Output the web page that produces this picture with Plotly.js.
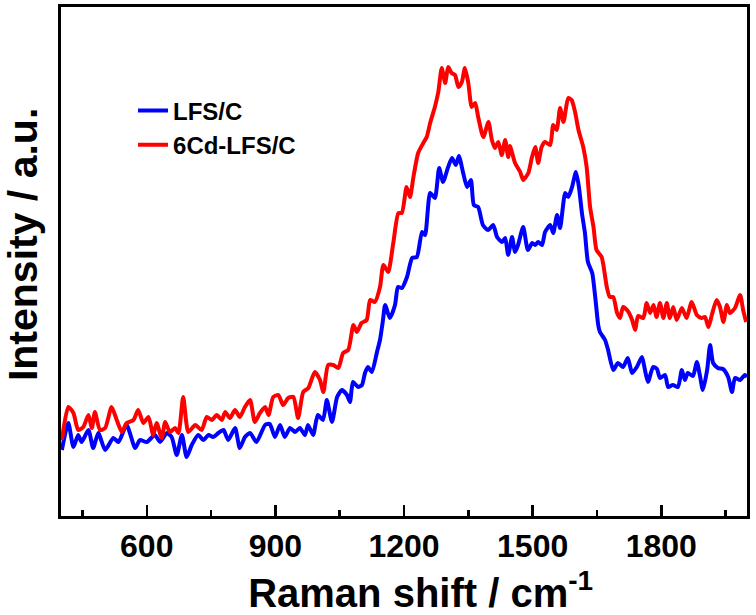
<!DOCTYPE html>
<html>
<head>
<meta charset="utf-8">
<script src="https://cdn.plot.ly/plotly-3.0.1.min.js"></script>
<style>
html,body{margin:0;padding:0;background:#fff;}
#chart{width:756px;height:615px;}
</style>
</head>
<body>
<div id="chart"></div>
<script>
// Raman shift (cm^-1) and intensity (a.u.) for LFS/C
var lfsX = [402,417,429,440,448,464,475,487,503,522,534,553,573,584,600,619,631,647,658,670,682,693,705,720,732,744,755,767,779,790,806,817,829,841,856,876,887,899,911,922,934,946,957,969,976,988,999,1011,1020,1032,1044,1055,1067,1074,1081,1093,1102,1109,1116,1125,1137,1144,1151,1156,1167,1179,1186,1195,1207,1219,1230,1242,1249,1261,1272,1282,1291,1303,1312,1321,1328,1338,1347,1356,1363,1373,1384,1396,1408,1417,1429,1436,1443,1452,1459,1466,1478,1489,1499,1506,1513,1522,1529,1541,1548,1557,1564,1576,1583,1592,1601,1608,1615,1622,1629,1639,1646,1653,1657,1669,1676,1688,1699,1711,1722,1732,1743,1755,1762,1769,1781,1790,1797,1809,1816,1827,1839,1848,1855,1862,1874,1883,1890,1897,1907,1914,1921,1932,1944,1956,1965,1972,1984,1995,2000];
var lfsY = [66,93,69,81,74,86,68,83,66,78,74,91,68,76,74,81,74,83,79,61,81,59,71,81,76,81,79,83,86,76,88,68,79,83,74,91,92,79,91,79,88,84,88,81,91,81,101,96,116,94,119,126,121,114,134,129,131,143,149,144,164,176,196,211,198,211,229,228,239,258,259,284,281,323,318,348,334,349,358,351,360,343,329,336,311,309,291,286,291,279,274,278,261,279,264,271,289,266,273,271,274,271,284,291,283,301,288,323,319,329,344,329,303,283,254,243,219,191,184,176,166,146,153,149,158,143,149,159,146,134,149,147,138,141,129,131,129,146,136,143,140,154,141,126,146,171,153,148,147,139,124,138,136,141,139];

// Raman shift (cm^-1) and intensity (a.u.) for 6Cd-LFS/C
var cdX = [402,417,429,440,452,464,472,479,491,503,518,530,542,553,569,580,592,604,615,623,635,643,654,666,674,685,697,713,728,740,752,763,775,783,794,806,817,829,841,852,864,876,884,895,907,918,930,942,953,965,977,992,1004,1012,1023,1035,1047,1058,1070,1082,1090,1101,1113,1121,1132,1144,1152,1163,1175,1187,1195,1206,1214,1222,1233,1245,1253,1261,1272,1280,1288,1296,1303,1311,1319,1327,1335,1342,1350,1358,1366,1373,1385,1397,1405,1412,1420,1428,1436,1443,1447,1459,1471,1478,1490,1498,1506,1513,1521,1529,1541,1548,1556,1564,1572,1583,1591,1599,1607,1618,1626,1634,1642,1649,1661,1673,1680,1688,1697,1704,1711,1722,1732,1739,1746,1758,1766,1774,1782,1789,1797,1805,1813,1820,1828,1836,1848,1859,1871,1883,1894,1902,1910,1918,1929,1937,1945,1953,1960,1972,1984,1991,1998];
var cdY = [76,109,103,86,89,101,88,104,86,88,109,96,84,93,96,106,93,99,81,93,78,94,84,88,83,119,84,91,86,99,96,101,96,104,98,106,99,109,116,94,103,109,101,119,121,111,118,119,98,124,128,144,136,124,151,151,148,163,166,191,184,193,196,216,214,229,251,244,273,303,303,329,319,339,363,373,379,393,409,424,448,433,449,443,441,429,434,448,433,409,413,399,379,394,376,368,374,361,376,359,370,353,344,336,343,358,369,353,369,374,371,391,386,408,394,418,416,404,386,369,349,309,289,266,259,229,219,219,203,198,209,205,196,186,200,198,213,203,211,199,213,198,213,198,209,196,208,198,214,201,198,199,189,201,216,209,194,211,203,208,221,206,194];

var seriesNames = ['LFS/C', '6Cd-LFS/C'];
var xTicks = [600, 900, 1200, 1500, 1800];
var xMinorTicks = [450, 750, 1050, 1350, 1650, 1950];

var traces = [
  {x: lfsX, y: lfsY, name: seriesNames[0], type: 'scatter', mode: 'lines',
   line: {color: '#0000ff', width: 4, shape: 'spline', smoothing: 0.6}},
  {x: cdX, y: cdY, name: seriesNames[1], type: 'scatter', mode: 'lines',
   line: {color: '#ff0000', width: 4, shape: 'spline', smoothing: 0.6}}
];

var fontFam = 'Liberation Sans, Arial, sans-serif';
var layout = {
  width: 756, height: 615,
  margin: {l: 61, r: 9, t: 7, b: 99},
  paper_bgcolor: '#fff', plot_bgcolor: '#fff',
  showlegend: true,
  legend: {x: 0.105, y: 0.84, xanchor: 'left', yanchor: 'top',
    font: {family: fontFam, size: 24, color: '#000', weight: 'bold'},
    bgcolor: 'rgba(0,0,0,0)', tracegroupgap: 0},
  xaxis: {
    range: [400, 2000],
    tickvals: xTicks,
    ticktext: xTicks.map(String),
    ticks: 'inside', ticklen: 11, tickwidth: 2.5, tickcolor: '#000',
    minor: {tickvals: xMinorTicks, ticks: 'inside', ticklen: 6, tickwidth: 2.5, tickcolor: '#000'},
    showline: true, linewidth: 3, linecolor: '#000', mirror: true,
    showgrid: false, zeroline: false,
    tickfont: {family: fontFam, size: 32, color: '#000', weight: 'bold'},
    title: {text: '&nbsp;&nbsp;&nbsp;Raman shift / cm<sup>-1</sup>', standoff: 18,
      font: {family: fontFam, size: 40, color: '#000', weight: 'bold'}}
  },
  yaxis: {
    range: [0, 509],
    showticklabels: false, ticks: '',
    showline: true, linewidth: 3, linecolor: '#000', mirror: true,
    showgrid: false, zeroline: false,
    title: {text: '&nbsp;&nbsp;&nbsp;Intensity / a.u.', standoff: 14,
      font: {family: fontFam, size: 41, color: '#000', weight: 'bold'}}
  }
};

Plotly.newPlot('chart', traces, layout, {displayModeBar: false, staticPlot: true});
</script>
</body>
</html>
